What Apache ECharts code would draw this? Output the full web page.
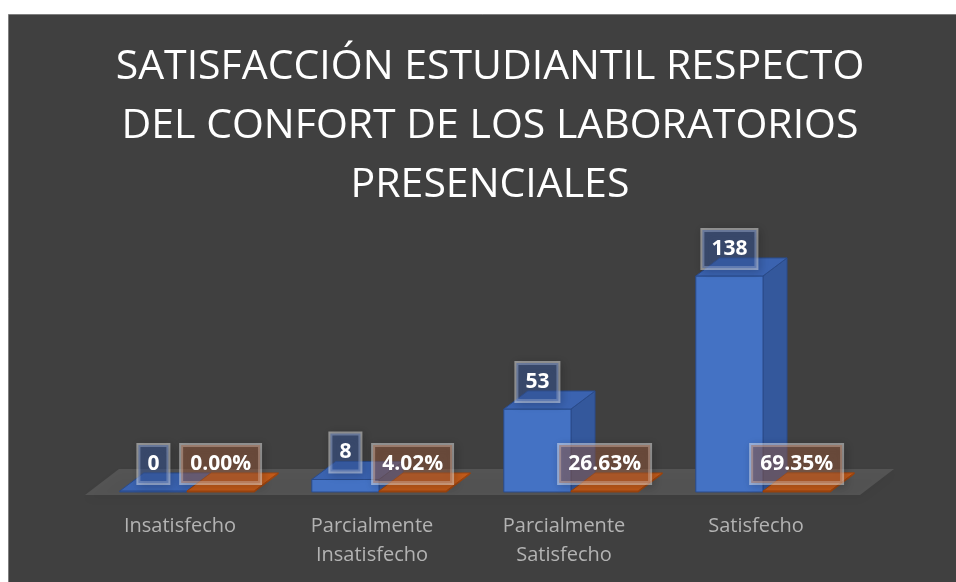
<!DOCTYPE html>
<html>
<head>
<meta charset="utf-8">
<script src="https://cdn.jsdelivr.net/npm/echarts@6/dist/echarts.min.js"></script>
<style>
html,body{margin:0;padding:0;background:#fff;}
#c{width:956px;height:582px;}
</style>
</head>
<body>
<div id="c"></div>
<script>
const categories = ['Insatisfecho', 'Parcialmente Insatisfecho', 'Parcialmente Satisfecho', 'Satisfecho'];
const counts = [0, 8, 53, 138];
const percents = [0.0000, 0.0402, 0.2663, 0.6935];
const titleText = 'SATISFACCIÓN ESTUDIANTIL RESPECTO\nDEL CONFORT DE LOS LABORATORIOS\nPRESENCIALES';

const chart = echarts.init(document.getElementById('c'));

function labelEl(text, cx, yTop, fill) {
  return {
    type: 'text',
    z2: 100,
    style: {
      text: text,
      x: cx,
      y: yTop - 8,
      align: 'center',
      verticalAlign: 'bottom',
      fill: '#ffffff',
      font: 'bold 21px "Open Sans"',
      lineHeight: 22,
      padding: [8, 9, 8, 9],
      backgroundColor: fill,
      borderColor: 'rgba(255,255,255,0.45)',
      borderWidth: 2,
      shadowColor: 'rgba(0,0,0,0.35)',
      shadowBlur: 8,
      shadowOffsetX: 2,
      shadowOffsetY: 2
    }
  };
}

function makeBar(side, colors, fmt, labelFill) {
  return function (params, api) {
    const ci = api.value(0), v = api.value(1);
    const top = api.coord([ci, v]);
    const base = api.coord([ci, 0]);
    const band = api.size([1, 0])[0];
    const w = band * 0.35;
    const dx = band * 0.125, dy = -band * 0.094;
    const x0 = side === 0 ? top[0] - w : top[0];
    const x1 = x0 + w;
    const yT = Math.min(top[1], base[1] - 1), yB = base[1];
    const children = [
      { type: 'polygon', shape: { points: [[x1, yB], [x1 + dx, yB + dy], [x1 + dx, yT + dy], [x1, yT]] },
        style: { fill: colors.side, stroke: colors.edge, lineWidth: 1 } },
      { type: 'rect', shape: { x: x0, y: yT, width: w, height: yB - yT },
        style: { fill: colors.front, stroke: colors.edge, lineWidth: 1 } },
      { type: 'polygon', shape: { points: [[x0, yT], [x1, yT], [x1 + dx, yT + dy], [x0 + dx, yT + dy]] },
        style: { fill: colors.top, stroke: colors.edge, lineWidth: 1 } },
      labelEl(fmt(v), (x0 + x1) / 2, yT, labelFill)
    ];
    return { type: 'group', children: children };
  };
}

const blue = { front: '#4472c4', side: '#34589c', top: '#3b63b0', edge: '#2a4b8a' };
const orange = { front: '#b8520f', side: '#a44a10', top: '#c05a1a', edge: '#9a4410' };

chart.setOption({
  backgroundColor: '#ffffff',
  animation: false,
  graphic: [{
    type: 'rect', z: -10,
    shape: { x: 8.5, y: 14.5, width: 960, height: 580 },
    style: { fill: '#404040', stroke: '#7f7f7f', lineWidth: 1 }
  }],
  title: {
    text: titleText,
    left: 490, top: 38, textAlign: 'center', padding: 0,
    textStyle: { color: '#ffffff', fontFamily: '"Open Sans"', fontWeight: 'normal', fontSize: 41, lineHeight: 59 }
  },
  grid: { left: 91, right: 97, top: 257.2, bottom: 90 },
  xAxis: {
    type: 'category', data: categories,
    axisLine: { show: false }, axisTick: { show: false }, splitLine: { show: false },
    axisLabel: {
      interval: 0, margin: 20, color: '#b3b3b3', fontFamily: '"Open Sans"', fontSize: 20, lineHeight: 29,
      padding: [0, 14, 0, 0],
      formatter: function (s) { return s.replace(' ', '\n'); }
    }
  },
  yAxis: { type: 'value', min: 0, max: 150, show: false, splitLine: { show: false } },
  series: [
    {
      type: 'custom', z: 1, data: [[0]],
      renderItem: function (params, api) {
        const cs = params.coordSys;
        const b = cs.y + cs.height;
        const xl = cs.x - 6, xr = cs.x + cs.width + 1;
        const fy = b + 3, by = b - 23, off = 34;
        return {
          type: 'polygon',
          shape: { points: [[xl, fy], [xr, fy], [xr + off, by], [xl + off, by]] },
          style: { fill: 'rgba(255,255,255,0.11)', shadowColor: 'rgba(0,0,0,0.35)', shadowBlur: 10, shadowOffsetY: 4 }
        };
      }
    },
    {
      type: 'custom', z: 2,
      data: counts.map(function (v, i) { return [i, v]; }),
      renderItem: makeBar(0, blue, function (v) { return String(v); }, 'rgba(60,95,170,0.45)')
    },
    {
      type: 'custom', z: 3,
      data: percents.map(function (v, i) { return [i, v]; }),
      renderItem: makeBar(1, orange, function (v) { return (v * 100).toFixed(2) + '%'; }, 'rgba(175,100,65,0.42)')
    }
  ]
});
</script>
</body>
</html>
